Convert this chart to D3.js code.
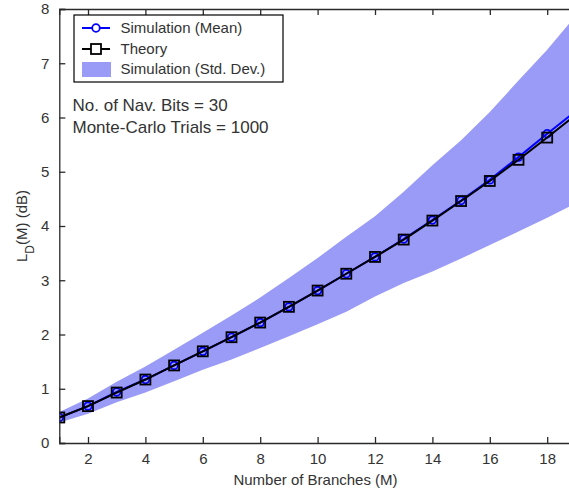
<!DOCTYPE html>
<html>
<head>
<meta charset="utf-8">
<script src="https://cdn.jsdelivr.net/npm/d3@7"></script>
<style>
  html, body { margin: 0; padding: 0; background: #fff; }
  svg { display: block; font-family: "Liberation Sans", Arial, sans-serif; }
</style>
</head>
<body>
<svg id="chart" width="569" height="493"></svg>
<script>
// ---- data ----
const branches   = [1, 2, 3, 4, 5, 6, 7, 8, 9, 10, 11, 12, 13, 14, 15, 16, 17, 18, 19];
const theory     = [0.47, 0.68, 0.93, 1.17, 1.43, 1.69, 1.95, 2.22, 2.51, 2.81, 3.12, 3.43, 3.75, 4.10, 4.46, 4.83, 5.22, 5.63, 6.05];
const simMean    = [0.47, 0.68, 0.94, 1.17, 1.43, 1.69, 1.95, 2.22, 2.51, 2.81, 3.12, 3.43, 3.76, 4.11, 4.47, 4.85, 5.27, 5.70, 6.12];
const simUpper   = [0.57, 0.82, 1.13, 1.41, 1.72, 2.03, 2.35, 2.68, 3.04, 3.41, 3.80, 4.18, 4.63, 5.12, 5.58, 6.10, 6.68, 7.25, 7.88];
const simLower   = [0.38, 0.54, 0.75, 0.93, 1.14, 1.35, 1.54, 1.75, 1.97, 2.19, 2.42, 2.70, 2.95, 3.16, 3.40, 3.65, 3.90, 4.15, 4.42];
const xTicks     = [2, 4, 6, 8, 10, 12, 14, 16, 18];
const yTicks     = [0, 1, 2, 3, 4, 5, 6, 7, 8];
const legendLabels = ["Simulation (Mean)", "Theory", "Simulation (Std. Dev.)"];
const noteLines  = ["No. of Nav. Bits = 30", "Monte-Carlo Trials = 1000"];

// ---- layout ----
const svg = d3.select("#chart");
const mLeft = 59.3, mTop = 9, mBottom = 443, mRight = 604.6;
const x = d3.scaleLinear().domain([1, 20]).range([mLeft, mRight]);
const y = d3.scaleLinear().domain([0, 8]).range([mBottom, mTop]);
const axisColor = "#2a2a2a";
const textColor = "#333";

const defs = svg.append("defs");
defs.append("clipPath").attr("id", "plotclip")
  .append("rect").attr("x", mLeft).attr("y", mTop).attr("width", mRight - mLeft).attr("height", mBottom - mTop);

const plot = svg.append("g").attr("clip-path", "url(#plotclip)");

const pts = branches.map((b, i) => ({ b, t: theory[i], m: simMean[i], u: simUpper[i], l: simLower[i] }));

// band
plot.append("path")
  .datum(pts)
  .attr("d", d3.area().x(d => x(d.b)).y0(d => y(d.l)).y1(d => y(d.u)))
  .attr("fill", "#9a9af7")
  .attr("stroke", "none");

// simulation mean
plot.append("path")
  .datum(pts)
  .attr("d", d3.line().x(d => x(d.b)).y(d => y(d.m)))
  .attr("fill", "none").attr("stroke", "#0000ff").attr("stroke-width", 2);
plot.selectAll("circle.mean").data(pts).enter().append("circle")
  .attr("class", "mean")
  .attr("cx", d => x(d.b)).attr("cy", d => y(d.m)).attr("r", 3.8)
  .attr("fill", "none").attr("stroke", "#0000ff").attr("stroke-width", 1.8);

// theory
plot.append("path")
  .datum(pts)
  .attr("d", d3.line().x(d => x(d.b)).y(d => y(d.t)))
  .attr("fill", "none").attr("stroke", "#000").attr("stroke-width", 2);
plot.selectAll("rect.theory").data(pts).enter().append("rect")
  .attr("class", "theory")
  .attr("x", d => x(d.b) - 5).attr("y", d => y(d.t) - 5)
  .attr("width", 10).attr("height", 10)
  .attr("fill", "none").attr("stroke", "#000").attr("stroke-width", 1.8);

// ---- axes ----
const xAxisB = d3.axisBottom(x).tickValues(xTicks).tickSize(-6).tickPadding(10).tickFormat(d3.format("d"));
const xAxisT = d3.axisTop(x).tickValues(xTicks).tickSize(-6).tickFormat("");
const yAxisL = d3.axisLeft(y).tickValues(yTicks).tickSize(-6).tickPadding(10).tickFormat(d3.format("d"));

function styleAxis(g) {
  g.select(".domain").attr("stroke", axisColor).attr("stroke-width", 1.3);
  g.selectAll(".tick line").attr("stroke", axisColor).attr("stroke-width", 1.3);
  g.selectAll(".tick text").attr("fill", textColor).attr("font-size", 15)
    .attr("font-family", "Liberation Sans, Arial, sans-serif");
}
svg.append("g").attr("transform", `translate(0,${mBottom})`).call(xAxisB).call(styleAxis);
svg.append("g").attr("transform", `translate(0,${mTop})`).call(xAxisT).call(styleAxis);
svg.append("g").attr("transform", `translate(${mLeft},0)`).call(yAxisL).call(styleAxis);

// axis labels
svg.append("text")
  .attr("x", 315.5).attr("y", 485)
  .attr("text-anchor", "middle").attr("font-size", 15).attr("fill", textColor)
  .text("Number of Branches (M)");

const yl = svg.append("text")
  .attr("transform", "translate(27,226) rotate(-90)")
  .attr("text-anchor", "middle").attr("font-size", 15).attr("fill", textColor);
yl.append("tspan").text("L");
yl.append("tspan").attr("baseline-shift", "sub").attr("font-size", 12).text("D");
yl.append("tspan").text("(M) (dB)");

// ---- legend ----
const lg = svg.append("g");
lg.append("rect").attr("x", 74).attr("y", 15).attr("width", 209).attr("height", 67)
  .attr("fill", "#fff").attr("stroke", "#000").attr("stroke-width", 1.2);
const rowY = [28, 49, 69];
// mean entry
lg.append("line").attr("x1", 82).attr("x2", 110).attr("y1", rowY[0]).attr("y2", rowY[0])
  .attr("stroke", "#0000ff").attr("stroke-width", 2);
lg.append("circle").attr("cx", 96).attr("cy", rowY[0]).attr("r", 3.8)
  .attr("fill", "#fff").attr("stroke", "#0000ff").attr("stroke-width", 1.8);
// theory entry
lg.append("line").attr("x1", 82).attr("x2", 110).attr("y1", rowY[1]).attr("y2", rowY[1])
  .attr("stroke", "#000").attr("stroke-width", 2);
lg.append("rect").attr("x", 91).attr("y", rowY[1] - 5).attr("width", 10).attr("height", 10)
  .attr("fill", "#fff").attr("stroke", "#000").attr("stroke-width", 1.8);
// band entry
lg.append("rect").attr("x", 82).attr("y", 62).attr("width", 29).attr("height", 15)
  .attr("fill", "#9a9af7");
legendLabels.forEach((t, i) => {
  lg.append("text").attr("x", 120.5).attr("y", rowY[i]).attr("dy", "0.36em")
    .attr("font-size", 15).attr("fill", textColor).text(t);
});

// ---- annotation ----
noteLines.forEach((t, i) => {
  svg.append("text").attr("x", 72.5).attr("y", 105 + i * 22).attr("dy", "0.36em")
    .attr("font-size", 17).attr("fill", textColor).text(t);
});
</script>
</body>
</html>
